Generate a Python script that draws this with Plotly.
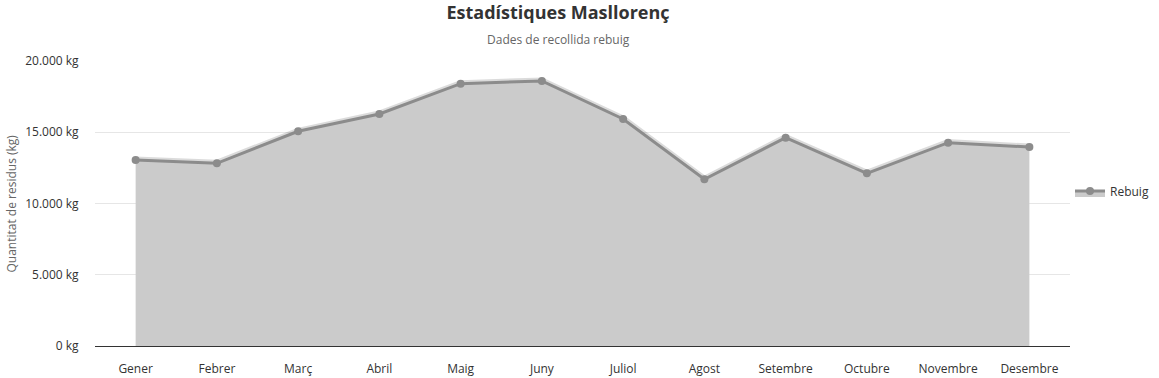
import plotly.graph_objects as go

months = ["Gener", "Febrer", "Març", "Abril", "Maig", "Juny", "Juliol",
          "Agost", "Setembre", "Octubre", "Novembre", "Desembre"]
rebuig = [13050, 12820, 15070, 16280, 18410, 18600, 15930,
          11700, 14620, 12120, 14270, 13960]
y_ticks = [0, 5000, 10000, 15000, 20000]
y_tick_text = [f"{v:,}".replace(",", ".") + " kg" for v in y_ticks]

FONT = "Open Sans"
W, H = 1159, 378
L, R, T, B = 95, 89, 61, 32
PW = W - L - R
PH = H - T - B

fig = go.Figure()
# soft shadow under the line
fig.add_trace(go.Scatter(
    x=months, y=rebuig, mode="lines",
    line=dict(color="rgba(0,0,0,0.14)", width=7),
    hoverinfo="skip", showlegend=False,
))
fig.add_trace(go.Scatter(
    x=months, y=rebuig, name="Rebuig", mode="lines+markers",
    fill="tozeroy", fillcolor="#cbcbcb",
    line=dict(color="#8c8c8c", width=3),
    marker=dict(color="#8c8c8c", size=8),
))

fig.update_layout(
    width=W, height=H,
    margin=dict(l=L, r=R, t=T, b=B, autoexpand=False),
    paper_bgcolor="white", plot_bgcolor="white",
    font=dict(family=FONT, size=12, color="#333333"),
    title=dict(
        text="<b>Estadístiques Masllorenç</b>",
        x=558 / W, xanchor="center", xref="container",
        y=1 - 13 / H, yanchor="middle", yref="container",
        font=dict(family=FONT, size=18, color="#333333"),
    ),
    annotations=[
        dict(
            text="Dades de recollida rebuig", xref="paper", yref="paper",
            x=(558 - L) / PW, y=1 + (T - 39) / PH, xanchor="center", yanchor="middle",
            showarrow=False, font=dict(family=FONT, size=12, color="#666666"),
        ),
        dict(
            text="Quantitat de residus (kg)", xref="paper", yref="paper",
            x=(11 - L) / PW, y=0.5, xanchor="center", yanchor="middle",
            textangle=-90, showarrow=False,
            font=dict(family=FONT, size=12, color="#666666"),
        ),
    ],
    showlegend=True,
    legend=dict(
        x=1.0, xanchor="left", y=(346 - 191) / PH, yanchor="middle",
        font=dict(family=FONT, size=12, color="#333333"),
        bgcolor="rgba(0,0,0,0)",
    ),
    xaxis=dict(
        type="category", range=[-0.5, 11.5],
        showgrid=False, showline=True, linecolor="#333333", linewidth=1,
        ticks="outside", ticklen=12, tickcolor="rgba(0,0,0,0)",
        tickfont=dict(size=12, color="#333333"),
        zeroline=False, fixedrange=True,
    ),
    yaxis=dict(
        range=[0, 20000], tickvals=y_ticks, ticktext=y_tick_text,
        showgrid=True, gridcolor="#e6e6e6", gridwidth=1,
        zeroline=False, showline=False,
        ticks="outside", ticklen=13, tickcolor="rgba(0,0,0,0)",
        tickfont=dict(size=12, color="#333333"),
        fixedrange=True,
    ),
)

fig.write_html("out.html")
